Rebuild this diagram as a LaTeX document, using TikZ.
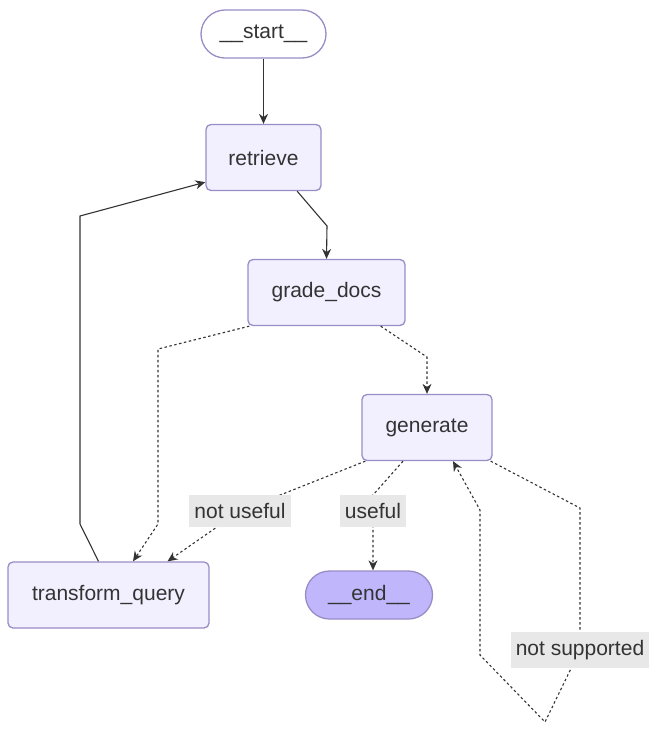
\documentclass[tikz,border=0pt]{standalone}
\usepackage{fontspec}
\setmainfont{Liberation Sans}
\usetikzlibrary{arrows.meta}
\definecolor{nodefill}{HTML}{F2F0FF}
\definecolor{nodeline}{HTML}{9A8CC6}
\definecolor{endfill}{HTML}{BFB6FC}
\definecolor{lblfill}{HTML}{E8E8E8}
\definecolor{edgecol}{HTML}{333333}
\begin{document}
\begin{tikzpicture}[x=1pt,y=-1pt,>={Stealth[length=10pt,width=9pt]},
  box/.style={draw=nodeline,fill=nodefill,line width=1.3pt,rounded corners=5pt,
    minimum height=66pt,text=edgecol,font=\fontsize{21}{25}\selectfont},
  pill/.style={box,rounded corners=24pt,minimum height=48pt},
  lbl/.style={fill=lblfill,text=edgecol,inner xsep=5pt,inner ysep=8pt,font=\fontsize{21}{25}\selectfont},
  flow/.style={draw=edgecol,line width=1.1pt,->},
  maybe/.style={flow,dash pattern=on 2.5pt off 2.5pt}]
\useasboundingbox (0,0) rectangle (650,732);
% nodes
\node[pill,fill=white,minimum width=125pt] (start) at (263.5,34) {\_\_start\_\_};
\node[box,minimum width=115pt] (retrieve) at (263.5,157.5) {retrieve};
\node[box,minimum width=157pt] (grade) at (326.5,292.5) {grade\_docs};
\node[box,minimum width=130pt] (generate) at (427,427.5) {generate};
\node[box,minimum width=201pt] (transform) at (108.5,595) {transform\_query};
\node[pill,fill=endfill,minimum width=127pt] (end) at (369,595) {\_\_end\_\_};
% label spots
\coordinate (nu) at (240,511);
\coordinate (us) at (373,511);
\coordinate (ns) at (580,650);
% edges
\draw[flow] (start) -- (retrieve);
\draw[flow] (retrieve.-45) -- (327,226) -- (grade.north);
\draw[flow] ([xshift=-10pt]transform.north) -- (80,524) -- (80,216) -- ([yshift=9pt]retrieve.south west);
\draw[maybe] ([xshift=2pt]grade.south west) -- (158,349) -- (158,524) -- ([xshift=24.5pt]transform.north);
\draw[maybe] ([xshift=-25pt]grade.south east) -- (427,357) -- (generate.north);
\draw[maybe] ([xshift=4pt]generate.south west) -- (nu) -- ([xshift=59pt]transform.north);
\draw[maybe] ([xshift=-24pt]generate.south) -- (373,495) -- (us) -- ([xshift=4pt]end.north);
\draw[maybe] ([xshift=-2pt]generate.south east) -- (580,508) -- (ns) -- (545,722) -- (480,655) -- (480,510) -- ([xshift=26pt]generate.south);
% labels
\node[lbl] (nulbl) at (nu) {not useful};
\node[lbl] (uslbl) at (us) {useful};
\node[lbl] (nslbl) at (ns) {not supported};
\end{tikzpicture}
\end{document}
